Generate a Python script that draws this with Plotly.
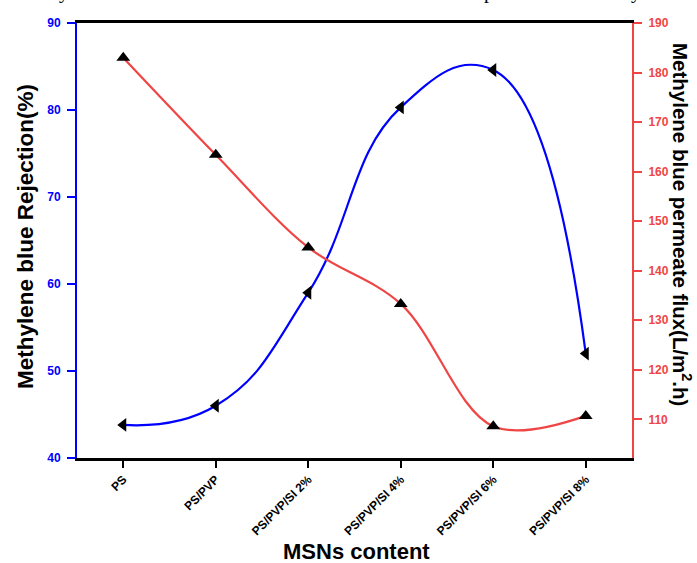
import plotly.graph_objects as go

# MSNs content categories along the x axis
categories = ["PS", "PS/PVP", "PS/PVP/SI 2%", "PS/PVP/SI 4%", "PS/PVP/SI 6%", "PS/PVP/SI 8%"]

# Methylene blue rejection (%) — left axis
rejection = [43.8, 46.0, 59.0, 80.3, 84.6, 52.0]

# Methylene blue permeate flux (L/m2.h) — right axis
flux = [183.0, 163.4, 144.7, 133.3, 108.6, 110.7]

W, H = 697, 563
L, R, T, B = 77, 65, 23, 105

BLUE = "#0000FF"
RED = "#F04545"
FONT = "Liberation Sans, Arial, sans-serif"

fig = go.Figure()

fig.add_trace(go.Scatter(
    x=categories, y=rejection, yaxis="y",
    mode="lines+markers",
    line=dict(color=BLUE, width=2.2, shape="spline", smoothing=1.3),
    marker=dict(symbol="triangle-left", size=12, color="black"),
    showlegend=False, cliponaxis=False,
))

fig.add_trace(go.Scatter(
    x=categories, y=flux, yaxis="y2",
    mode="lines+markers",
    line=dict(color=RED, width=2.2, shape="spline", smoothing=1.0),
    marker=dict(symbol="triangle-up", size=12, color="black"),
    showlegend=False, cliponaxis=False,
))

fig.update_layout(
    width=W, height=H,
    margin=dict(l=L, r=R, t=T, b=B, pad=0),
    paper_bgcolor="white", plot_bgcolor="white",
    font=dict(family=FONT, color="black"),
    xaxis=dict(
        type="category", range=[-0.5, 5.5],
        showgrid=False, zeroline=False,
        showline=True, linecolor="black", linewidth=2.5, mirror=True,
        ticks="outside", ticklen=7, tickwidth=2, tickcolor="black",
        tickangle=-45,
        tickfont=dict(family=FONT, size=12, color="black", weight="bold"),
    ),
    yaxis=dict(
        range=[40, 90], dtick=10,
        showgrid=False, zeroline=False,
        showline=True, linecolor=BLUE, linewidth=2,
        ticks="outside", ticklen=8, tickwidth=2, tickcolor=BLUE,
        tickfont=dict(family=FONT, size=12, color=BLUE, weight="bold"),
        ticklabelstandoff=4,
    ),
    yaxis2=dict(
        overlaying="y", side="right",
        range=[102.2, 190], tick0=110, dtick=10,
        showgrid=False, zeroline=False,
        showline=True, linecolor=RED, linewidth=2,
        ticks="outside", ticklen=8, tickwidth=2, tickcolor=RED,
        tickfont=dict(family=FONT, size=12, color=RED, weight="bold"),
        ticklabelstandoff=4,
    ),
)

def px_x(x):
    return (x - L) / (W - L - R)

def px_y(y):
    return 1 - (y - T) / (H - T - B)

def label(text, x, y, size, angle=0, family=FONT):
    fig.add_annotation(
        text=text, xref="paper", yref="paper",
        x=px_x(x), y=px_y(y), xanchor="center", yanchor="middle",
        textangle=angle, showarrow=False,
        font=dict(family=family, size=size, color="black"),
    )

# Axis titles
label("<b>Methylene blue Rejection(%)</b>", 25, 237, 22.5, -90)
label("<b>Methylene blue permeate flux(L/m<sup>2</sup>.h)</b>", 682, 224, 20.5, 90)
label("<b>MSNs content</b>", 356, 551, 22)

# Line of body text just above the figure (only its descenders show)
for ch, cx in [("y", 64), ("p", 489), ("y", 636)]:
    label(ch, cx, -8, 20, family="Liberation Serif, Times New Roman, serif")

fig.write_html("out.html")
